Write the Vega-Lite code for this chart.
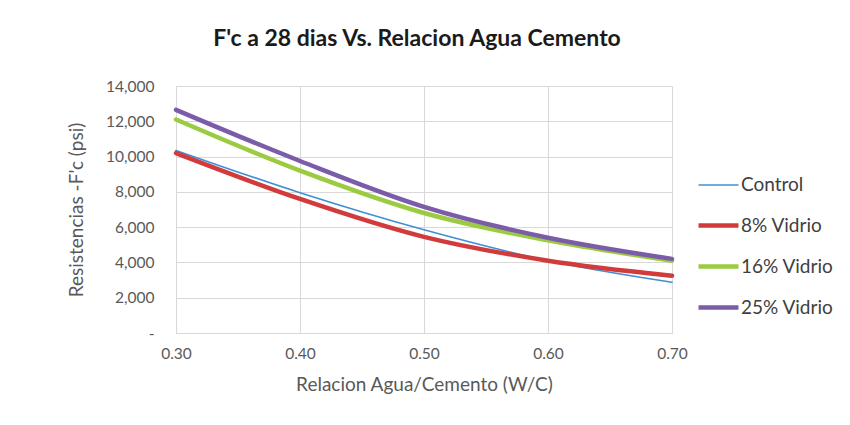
{
  "$schema": "https://vega.github.io/schema/vega-lite/v6.json",
  "width": 496,
  "height": 247,
  "padding": {"left": 67, "top": 28, "right": 5, "bottom": 5},
  "background": "white",
  "title": {
    "text": "F'c a 28 dias Vs. Relacion Agua Cemento",
    "font": "Lato",
    "fontSize": 23,
    "fontWeight": "bold",
    "color": "#1a1a1a",
    "anchor": "middle",
    "offset": 28,
    "dx": -7
  },
  "config": {
    "font": "Lato",
    "view": {"stroke": "#D9D9D9", "strokeWidth": 1},
    "axis": {
      "labelFont": "Lato",
      "titleFont": "Lato",
      "labelColor": "#595959",
      "titleColor": "#595959",
      "labelFontSize": 15.5,
      "titleFontSize": 19,
      "titleFontWeight": "normal",
      "gridColor": "#D9D9D9",
      "domainColor": "#D9D9D9",
      "ticks": false
    },
    "legend": {
      "labelFont": "Lato",
      "labelFontSize": 19,
      "labelColor": "#404040"
    }
  },
  "data": {
    "values": [
      {"series": "Control", "wc": 0.30, "fc": 10350},
      {"series": "Control", "wc": 0.40, "fc": 7950},
      {"series": "Control", "wc": 0.50, "fc": 5850},
      {"series": "Control", "wc": 0.60, "fc": 4100},
      {"series": "Control", "wc": 0.70, "fc": 2880},
      {"series": "8% Vidrio", "wc": 0.30, "fc": 10200},
      {"series": "8% Vidrio", "wc": 0.40, "fc": 7600},
      {"series": "8% Vidrio", "wc": 0.50, "fc": 5450},
      {"series": "8% Vidrio", "wc": 0.60, "fc": 4100},
      {"series": "8% Vidrio", "wc": 0.70, "fc": 3250},
      {"series": "16% Vidrio", "wc": 0.30, "fc": 12100},
      {"series": "16% Vidrio", "wc": 0.40, "fc": 9200},
      {"series": "16% Vidrio", "wc": 0.50, "fc": 6800},
      {"series": "16% Vidrio", "wc": 0.60, "fc": 5250},
      {"series": "16% Vidrio", "wc": 0.70, "fc": 4100},
      {"series": "25% Vidrio", "wc": 0.30, "fc": 12650},
      {"series": "25% Vidrio", "wc": 0.40, "fc": 9750},
      {"series": "25% Vidrio", "wc": 0.50, "fc": 7150},
      {"series": "25% Vidrio", "wc": 0.60, "fc": 5400},
      {"series": "25% Vidrio", "wc": 0.70, "fc": 4200}
    ]
  },
  "mark": {"type": "line", "interpolate": "monotone", "strokeCap": "round"},
  "encoding": {
    "x": {
      "field": "wc",
      "type": "quantitative",
      "title": "Relacion Agua/Cemento (W/C)",
      "scale": {"domain": [0.3, 0.7], "nice": false, "zero": false},
      "axis": {"values": [0.3, 0.4, 0.5, 0.6, 0.7], "format": ".2f", "labelFlush": false, "labelPadding": 13, "titlePadding": 14}
    },
    "y": {
      "field": "fc",
      "type": "quantitative",
      "title": "Resistencias -F'c (psi)",
      "scale": {"domain": [0, 14000], "nice": false},
      "axis": {
        "values": [0, 2000, 4000, 6000, 8000, 10000, 12000, 14000],
        "labelExpr": "datum.value == 0 ? '-' : format(datum.value, ',')",
        "labelPadding": 22,
        "titlePadding": 19
      }
    },
    "color": {
      "field": "series",
      "type": "nominal",
      "title": null,
      "scale": {
        "domain": ["Control", "8% Vidrio", "16% Vidrio", "25% Vidrio"],
        "range": ["#3F8FD4", "#D23B3B", "#9BCB40", "#7B5CA8"]
      },
      "legend": {
        "orient": "none",
        "legendX": 520,
        "legendY": 78,
        "symbolType": "stroke",
        "symbolSize": 1600,
        "rowPadding": 8,
        "labelOffset": 0
      }
    },
    "strokeWidth": {
      "field": "series",
      "type": "nominal",
      "title": null,
      "scale": {
        "type": "ordinal",
        "domain": ["Control", "8% Vidrio", "16% Vidrio", "25% Vidrio"],
        "range": [1.6, 4.5, 4.5, 4.5]
      },
      "legend": null
    },
    "order": {"field": "series"}
  }
}
